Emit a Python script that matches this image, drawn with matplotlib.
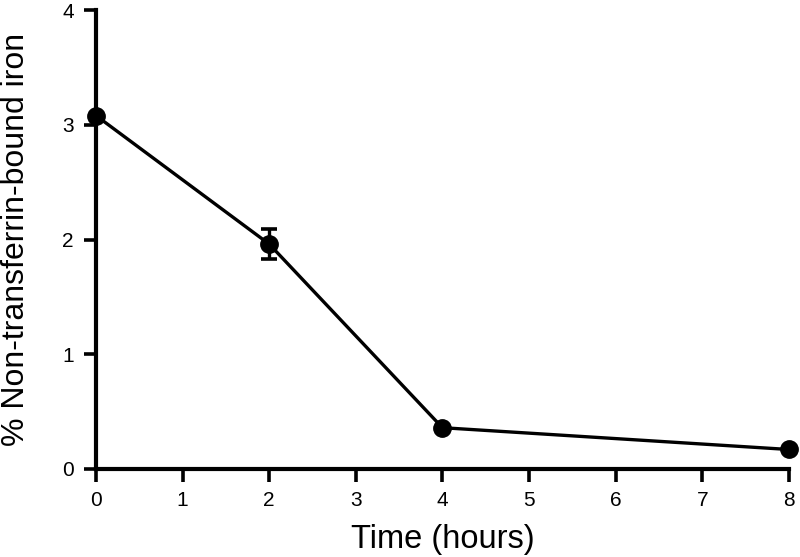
import numpy as np
import matplotlib.pyplot as plt

plt.rcParams['font.family'] = ['Liberation Sans', 'DejaVu Sans']

time_hours = [0, 2, 4, 8]
ntbi_pct = [3.08, 1.96, 0.36, 0.17]
ntbi_err = [0.0, 0.13, 0.0, 0.0]

x_ticks = [0, 1, 2, 3, 4, 5, 6, 7, 8]
y_ticks = [0, 1, 2, 3, 4]


def plot_ntbi():
    fig = plt.figure(figsize=(8, 5.57), dpi=100)
    ax = fig.add_axes([0.12, 0.158, 0.866, 0.824])

    ax.errorbar(time_hours, ntbi_pct, yerr=ntbi_err, color='black',
                lw=2.4, marker='o', markersize=12.5, capsize=6,
                capthick=2.6, elinewidth=2.4, clip_on=False, zorder=3)

    ax.set_xlim(0, 8)
    ax.set_ylim(0, 4)
    ax.set_xticks(x_ticks)
    ax.set_yticks(y_ticks)

    for side in ['top', 'right']:
        ax.spines[side].set_visible(False)
    for side in ['left', 'bottom']:
        ax.spines[side].set_linewidth(3)

    ax.tick_params(direction='out', length=9, width=2.6, labelsize=15,
                   pad=7, color='black')

    ax.set_xlabel('Time (hours)', fontsize=23.5, labelpad=10)
    ax.set_ylabel('% Non-transferrin-bound iron', fontsize=23, labelpad=22)

    fig.savefig('out.png', dpi=100)


if __name__ == "__main__":
    plot_ntbi()
